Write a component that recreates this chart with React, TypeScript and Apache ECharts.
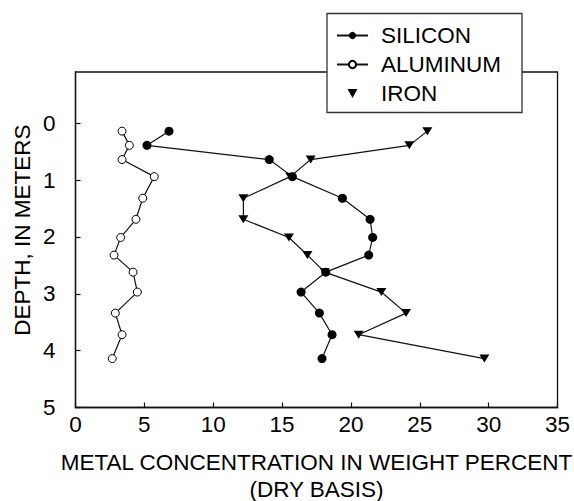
import React, { useEffect, useRef } from "react";
import * as echarts from "echarts";

const depths = [0.14, 0.39, 0.64, 0.94, 1.32, 1.69, 2.01, 2.32, 2.62, 2.97, 3.34, 3.72, 4.14];
const silicon = [6.79, 5.19, 14.07, 15.75, 19.38, 21.39, 21.58, 21.29, 18.17, 16.38, 17.71, 18.63, 17.9];
const aluminum = [3.38, 3.91, 3.38, 5.72, 4.88, 4.39, 3.28, 2.8, 4.18, 4.49, 2.89, 3.38, 2.67];
const iron = [25.55, 24.24, 17.08, 15.6, 12.19, 12.19, 15.5, 16.84, 18.1, 22.21, 24.0, 20.56, 29.69];
const seriesNames = ["SILICON", "ALUMINUM", "IRON"];
const depthTicks = [0, 1, 2, 3, 4, 5];
const xTitle = "METAL CONCENTRATION IN WEIGHT PERCENT\n(DRY BASIS)";
const yTitle = "DEPTH, IN METERS";

const FONT = "'Liberation Sans', Arial, Helvetica, sans-serif";
const INK = "#111";
const FS = 22.5;

export default function App() {
  const ref = useRef<HTMLDivElement>(null);
  useEffect(() => {
    if (!ref.current) return;
    const chart = echarts.init(ref.current, undefined, { renderer: "svg" });
    const pairs = (xs: number[]) => xs.map((v, i) => [v, depths[i]]);
    chart.setOption({
      animation: false,
      backgroundColor: "#fff",
      textStyle: { fontFamily: FONT },
      grid: {
        left: 75.5,
        right: 16.5,
        top: 72,
        bottom: 93.5,
        outerBoundsMode: "none",
        containLabel: false,
        show: true,
        borderColor: INK,
        borderWidth: 1.3,
        backgroundColor: "transparent",
      },
      xAxis: {
        type: "value",
        min: 0,
        max: 35,
        interval: 5,
        axisLine: { show: true, onZero: false, lineStyle: { color: INK, width: 1.3 } },
        axisTick: { show: true, inside: true, length: 5, lineStyle: { color: INK, width: 1.2 } },
        axisLabel: { fontSize: FS, color: "#000", margin: 5, fontFamily: FONT },
        splitLine: { show: false },
        name: xTitle,
        nameLocation: "middle",
        nameGap: 41,
        nameTextStyle: { fontSize: FS, color: "#000", lineHeight: 27, fontFamily: FONT },
      },
      yAxis: {
        type: "value",
        inverse: true,
        min: -0.9,
        max: 5,
        axisLine: { show: true, onZero: false, lineStyle: { color: INK, width: 1.3 } },
        axisTick: {
          show: true,
          inside: true,
          length: 5,
          customValues: depthTicks,
          lineStyle: { color: INK, width: 1.2 },
        },
        axisLabel: {
          fontSize: FS,
          color: "#000",
          margin: 20,
          customValues: depthTicks,
          fontFamily: FONT,
        },
        splitLine: { show: false },
      },
      legend: {
        orient: "vertical",
        left: 336,
        top: 24,
        padding: 0,
        itemWidth: 31,
        itemHeight: 9,
        itemGap: 6,
        z: 10,
        textStyle: { fontSize: FS, color: "#000", padding: [0, 0, 0, 8], fontFamily: FONT },
        data: [
          { name: seriesNames[0] },
          { name: seriesNames[1] },
          { name: seriesNames[2], icon: "path://M0,0L10,0L5,9Z" },
        ],
      },
      graphic: [
        {
          type: "rect",
          z: 5,
          shape: { x: 327, y: 13.5, width: 195, height: 99 },
          style: { fill: "#fff", stroke: "#333", lineWidth: 1.3 },
        },
        {
          type: "text",
          z: 5,
          x: 22,
          y: 230,
          rotation: Math.PI / 2,
          style: {
            text: yTitle,
            fontSize: FS,
            fontFamily: FONT,
            fill: "#000",
            textAlign: "center",
            textVerticalAlign: "middle",
          },
        },
      ],
      series: [
        {
          name: seriesNames[0],
          type: "line",
          data: pairs(silicon),
          symbol: "circle",
          symbolSize: 9,
          lineStyle: { color: INK, width: 1.2 },
          itemStyle: { color: "#000", borderWidth: 0 },
          z: 3,
        },
        {
          name: seriesNames[1],
          type: "line",
          data: pairs(aluminum),
          symbol: "circle",
          symbolSize: 8,
          lineStyle: { color: INK, width: 1.2 },
          itemStyle: { color: "#fff", borderColor: "#000", borderWidth: 1 },
          z: 3,
        },
        {
          name: seriesNames[2],
          type: "line",
          data: pairs(iron),
          symbol: "triangle",
          symbolRotate: 180,
          symbolSize: [10, 8],
          lineStyle: { color: INK, width: 1.2 },
          itemStyle: { color: "#000", borderWidth: 0 },
          z: 3,
        },
      ],
    });
    return () => chart.dispose();
  }, []);
  return (
    <div
      ref={ref}
      style={{ position: "fixed", left: 0, top: 0, width: 574, height: 501 }}
    />
  );
}
